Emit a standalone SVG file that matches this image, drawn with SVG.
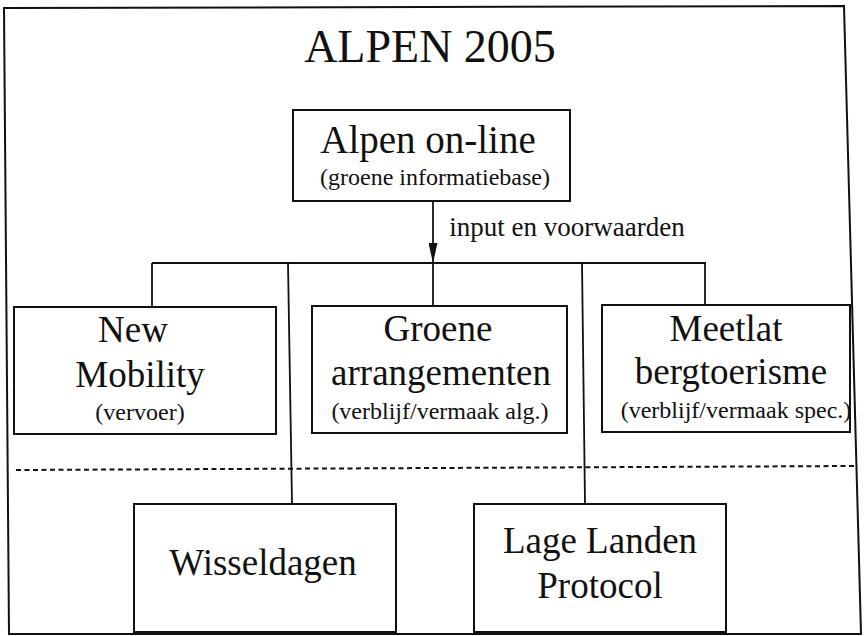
<svg xmlns="http://www.w3.org/2000/svg" width="864" height="636" viewBox="0 0 864 636">
<style>
.box{fill:#fff;stroke:#111;stroke-width:2}
.ln{fill:none;stroke:#111;stroke-width:1.8}
.t{font-family:"Liberation Serif","Times New Roman",serif;fill:#111;text-anchor:middle}
.big{font-size:37px}
.sub{font-size:24px}
</style>
<defs>
<marker id="ah" viewBox="0 0 20 9" refX="20" refY="4.5" markerWidth="20" markerHeight="9" markerUnits="userSpaceOnUse" orient="auto">
<path d="M0,0 L20,4.5 L0,9 z" fill="#111"/>
</marker>
</defs>
<rect width="864" height="636" fill="#fff"/>
<polygon points="4,8 844,6 861,634 9,634" fill="none" stroke="#111" stroke-width="2"/>
<text class="t" x="430" y="62" font-size="46">ALPEN 2005</text>
<g id="connectors">
<path class="ln" d="M433,201 L433,263" marker-end="url(#ah)"/>
<path class="ln" d="M152,263 L706,263"/>
<path class="ln" d="M152,263 L152,307"/>
<path class="ln" d="M433,263 L433,306"/>
<path class="ln" d="M705,263 L705,305"/>
<path class="ln" d="M288,263 L292,504"/>
<path class="ln" d="M582,263 L585,504"/>
<text class="t" x="567" y="236" font-size="27">input en voorwaarden</text>
</g>
<path d="M16,470 L854,466" fill="none" stroke="#111" stroke-width="2" stroke-dasharray="5 3.5"/>
<g id="alpen-online">
<rect class="box" x="293" y="110" width="277" height="91"/>
<text class="t" x="428" y="153" font-size="39">Alpen on-line</text>
<text class="t sub" x="435" y="185">(groene informatiebase)</text>
</g>
<g id="new-mobility">
<rect class="box" x="14" y="307" width="262" height="127"/>
<text class="t big" x="133" y="342">New</text>
<text class="t big" x="140" y="387">Mobility</text>
<text class="t sub" x="140" y="420">(vervoer)</text>
</g>
<g id="groene-arrangementen">
<rect class="box" x="312" y="306" width="255" height="127"/>
<text class="t big" x="438" y="341">Groene</text>
<text class="t big" x="441" y="385">arrangementen</text>
<text class="t sub" x="440" y="419">(verblijf/vermaak alg.)</text>
</g>
<g id="meetlat">
<rect class="box" x="602" y="305" width="248" height="127"/>
<text class="t big" x="726" y="341">Meetlat</text>
<text class="t big" x="731" y="384">bergtoerisme</text>
<text class="t sub" x="736" y="418">(verblijf/vermaak spec.)</text>
</g>
<g id="wisseldagen">
<rect class="box" x="134" y="504" width="262" height="128"/>
<text class="t big" x="263" y="575">Wisseldagen</text>
</g>
<g id="lage-landen">
<rect class="box" x="474" y="504" width="252" height="128"/>
<text class="t big" x="600" y="553">Lage Landen</text>
<text class="t big" x="600" y="598">Protocol</text>
</g>
</svg>
